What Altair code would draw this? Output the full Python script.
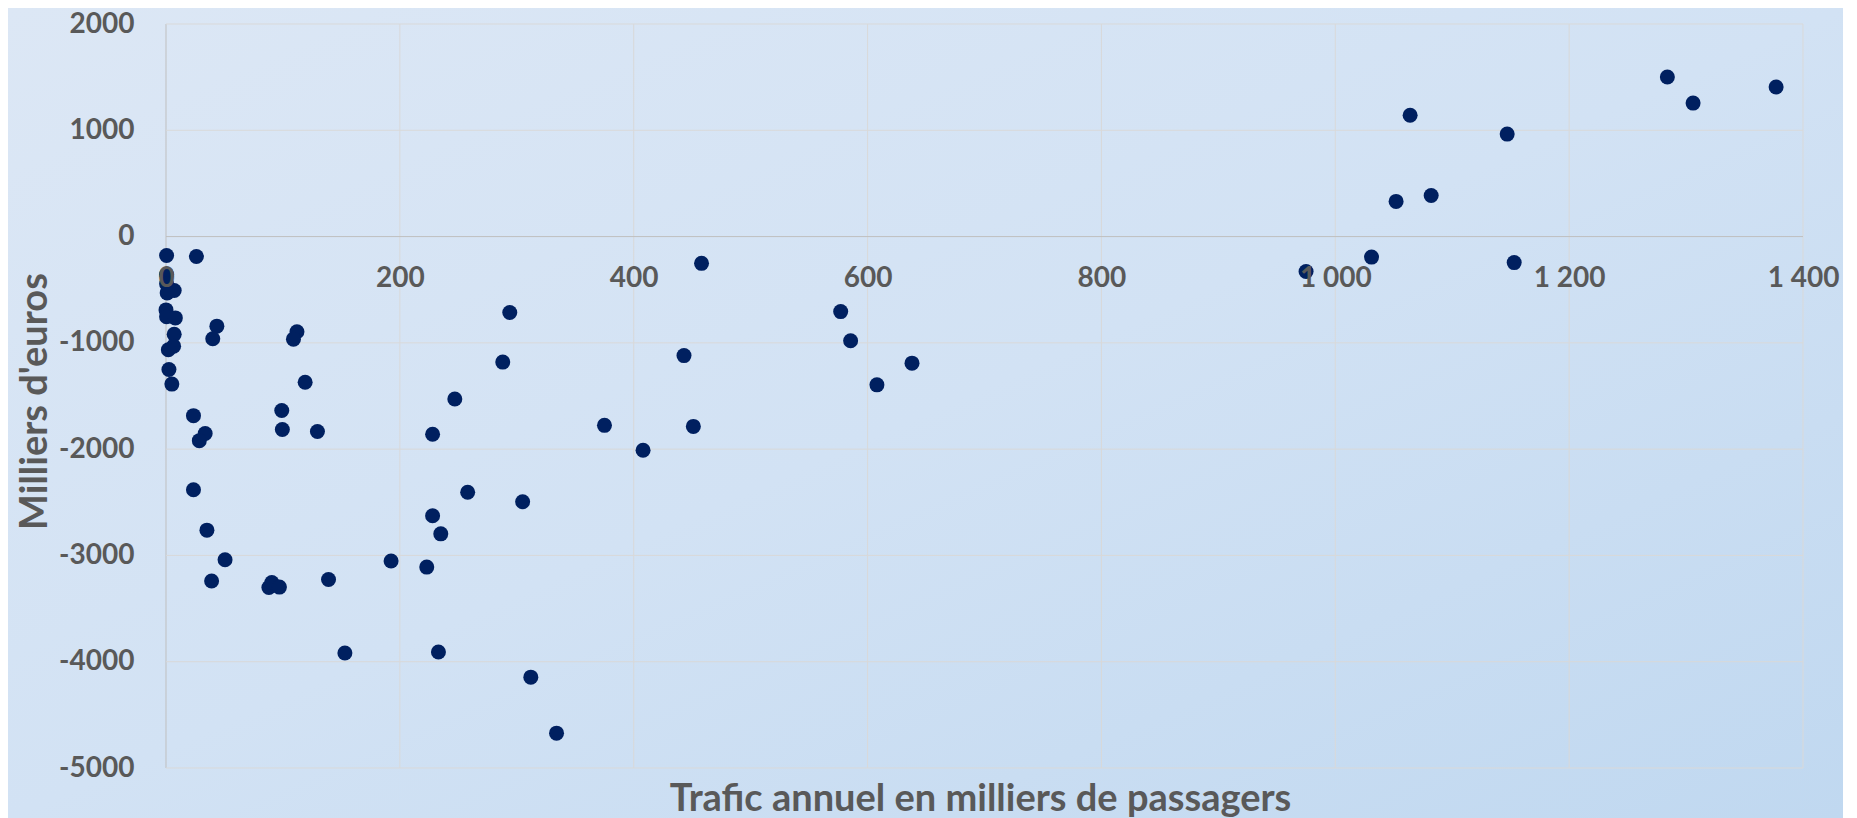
import altair as alt
import pandas as pd

# ---- data ----
traffic = [0.5, 26, 0.5, 0.5, 7, 1, 0, 0.5, 8, 7, 6.5, 2, 2.5, 5,
           43.5, 40, 112, 109, 119,
           23.5, 33.5, 28.5, 99, 99.5, 129.5,
           23.5, 35, 50.5, 39, 88, 90.5, 97, 139, 153,
           192.5, 223, 233, 312, 334,
           228, 247, 258, 305, 228, 235, 294, 288,
           375, 408, 443, 451, 458,
           577, 585.5, 608, 638,
           975, 1031, 1052, 1064, 1082, 1147, 1153, 1284, 1306, 1377]
result = [-178, -188, -357, -445, -507, -530, -690, -755, -765, -920, -1031, -1065, -1250, -1388,
          -843, -962, -896, -965, -1370,
          -1685, -1853, -1920, -1636, -1815, -1834,
          -2382, -2762, -3041, -3240, -3302, -3255, -3298, -3226, -3918,
          -3052, -3110, -3908, -4145, -4672,
          -1860, -1528, -2406, -2495, -2627, -2797, -714, -1181,
          -1776, -2010, -1120, -1786, -252,
          -706, -980, -1395, -1191,
          -328, -193, 331, 1141, 386, 964, -245, 1501, 1256, 1407]

x_ticks = [0, 200, 400, 600, 800, 1000, 1200, 1400]
y_ticks = [-5000, -4000, -3000, -2000, -1000, 0, 1000, 2000]

x_title = "Trafic annuel en milliers de passagers"
y_title = "Milliers d'euros"

W, H = 1637, 744
PAD = {"left": 158, "top": 16, "right": 40, "bottom": 50}

pts = pd.DataFrame({"traffic": traffic, "result": result})
vgrid = pd.DataFrame({"v": x_ticks})
hgrid = pd.DataFrame({"v": y_ticks})

TXT = "#595959"
FONT = "Lato"

x_scale = alt.Scale(domain=[x_ticks[0], x_ticks[-1]], nice=False, zero=False)
y_scale = alt.Scale(domain=[y_ticks[0], y_ticks[-1]], nice=False, zero=False)

zero_frac = (y_ticks[-1] - 0) / (y_ticks[-1] - y_ticks[0])
x_axis = alt.Axis(
    values=x_ticks, grid=False, domain=False, ticks=False, tickSize=0,
    orient="bottom", offset=-(H - H * zero_frac), zindex=1,
    labelExpr="replace(format(datum.value, ','), ',', ' ')",
    labelFont=FONT, labelFontSize=28, labelFontWeight="bold", labelColor=TXT,
    labelBaseline="alphabetic", labelPadding=50, labelAlign="center",
    labelOverlap=False, labelFlush=False,
    title=x_title, titleFont=FONT, titleFontSize=38, titleFontWeight="bold",
    titleColor=TXT, titleX=814, titleY=574, titleAlign="center",
    titleBaseline="alphabetic", titleAnchor="middle",
)
y_axis = alt.Axis(
    values=y_ticks, grid=False, domain=False, ticks=False, tickSize=0,
    orient="left", zindex=1,
    labelExpr="datum.value + ''",
    labelFont=FONT, labelFontSize=28, labelFontWeight="bold", labelColor=TXT,
    labelBaseline="middle", labelPadding=32, labelAlign="right",
    labelOverlap=False, labelFlush=False,
    title=y_title, titleFont=FONT, titleFontSize=38, titleFontWeight="bold",
    titleColor=TXT, titleAngle=270, titleX=-120, titleY=377,
    titleAlign="center", titleBaseline="alphabetic",
)

bg_grad = alt.LinearGradient(
    gradient="linear",
    stops=[alt.GradientStop(offset=0, color="#dce7f5"),
           alt.GradientStop(offset=0.5, color="#d2e2f4"),
           alt.GradientStop(offset=1, color="#c0d8f0")],
    x1=0, y1=0, x2=1, y2=1,
)
corner_grad = alt.RadialGradient(
    gradient="radial",
    stops=[alt.GradientStop(offset=0, color="rgba(150,180,218,1)"),
           alt.GradientStop(offset=1, color="rgba(150,180,218,0)")],
    x1=0, y1=0, r1=0, x2=0, y2=0, r2=0.18,
)

bg_data = alt.Data(values=[{"k": 1}])
bg = alt.Chart(bg_data).mark_rect(color=bg_grad, clip=False).encode(
    x=alt.value(-PAD["left"]), x2=alt.value(W + PAD["right"]),
    y=alt.value(-PAD["top"]), y2=alt.value(H + PAD["bottom"]),
)
corner = alt.Chart(bg_data).mark_rect(color=corner_grad, clip=False).encode(
    x=alt.value(-PAD["left"]), x2=alt.value(W + PAD["right"]),
    y=alt.value(-PAD["top"]), y2=alt.value(H + PAD["bottom"]),
)

vlines = alt.Chart(vgrid).mark_rule(strokeWidth=1).encode(
    x=alt.X("v:Q", scale=x_scale, axis=x_axis),
    color=alt.condition(alt.datum.v == 0, alt.value("#bfbfbf"), alt.value("#d9d9d9")),
)
hlines = alt.Chart(hgrid).mark_rule(strokeWidth=1).encode(
    y=alt.Y("v:Q", scale=y_scale, axis=y_axis),
    color=alt.condition(alt.datum.v == 0, alt.value("#bfbfbf"), alt.value("#d9d9d9")),
)
dots = alt.Chart(pts).mark_circle(size=225, color="#002060", opacity=1).encode(
    x=alt.X("traffic:Q", scale=x_scale, axis=x_axis),
    y=alt.Y("result:Q", scale=y_scale, axis=y_axis),
)

chart = alt.layer(bg, corner, vlines, hlines, dots).properties(
    width=W, height=H,
    padding=PAD,
    autosize=alt.AutoSizeParams(type="none"),
    background="#d6e4f4",
).configure_view(stroke=None)

chart.save("out.html", embed_options={"renderer": "svg", "actions": False})
